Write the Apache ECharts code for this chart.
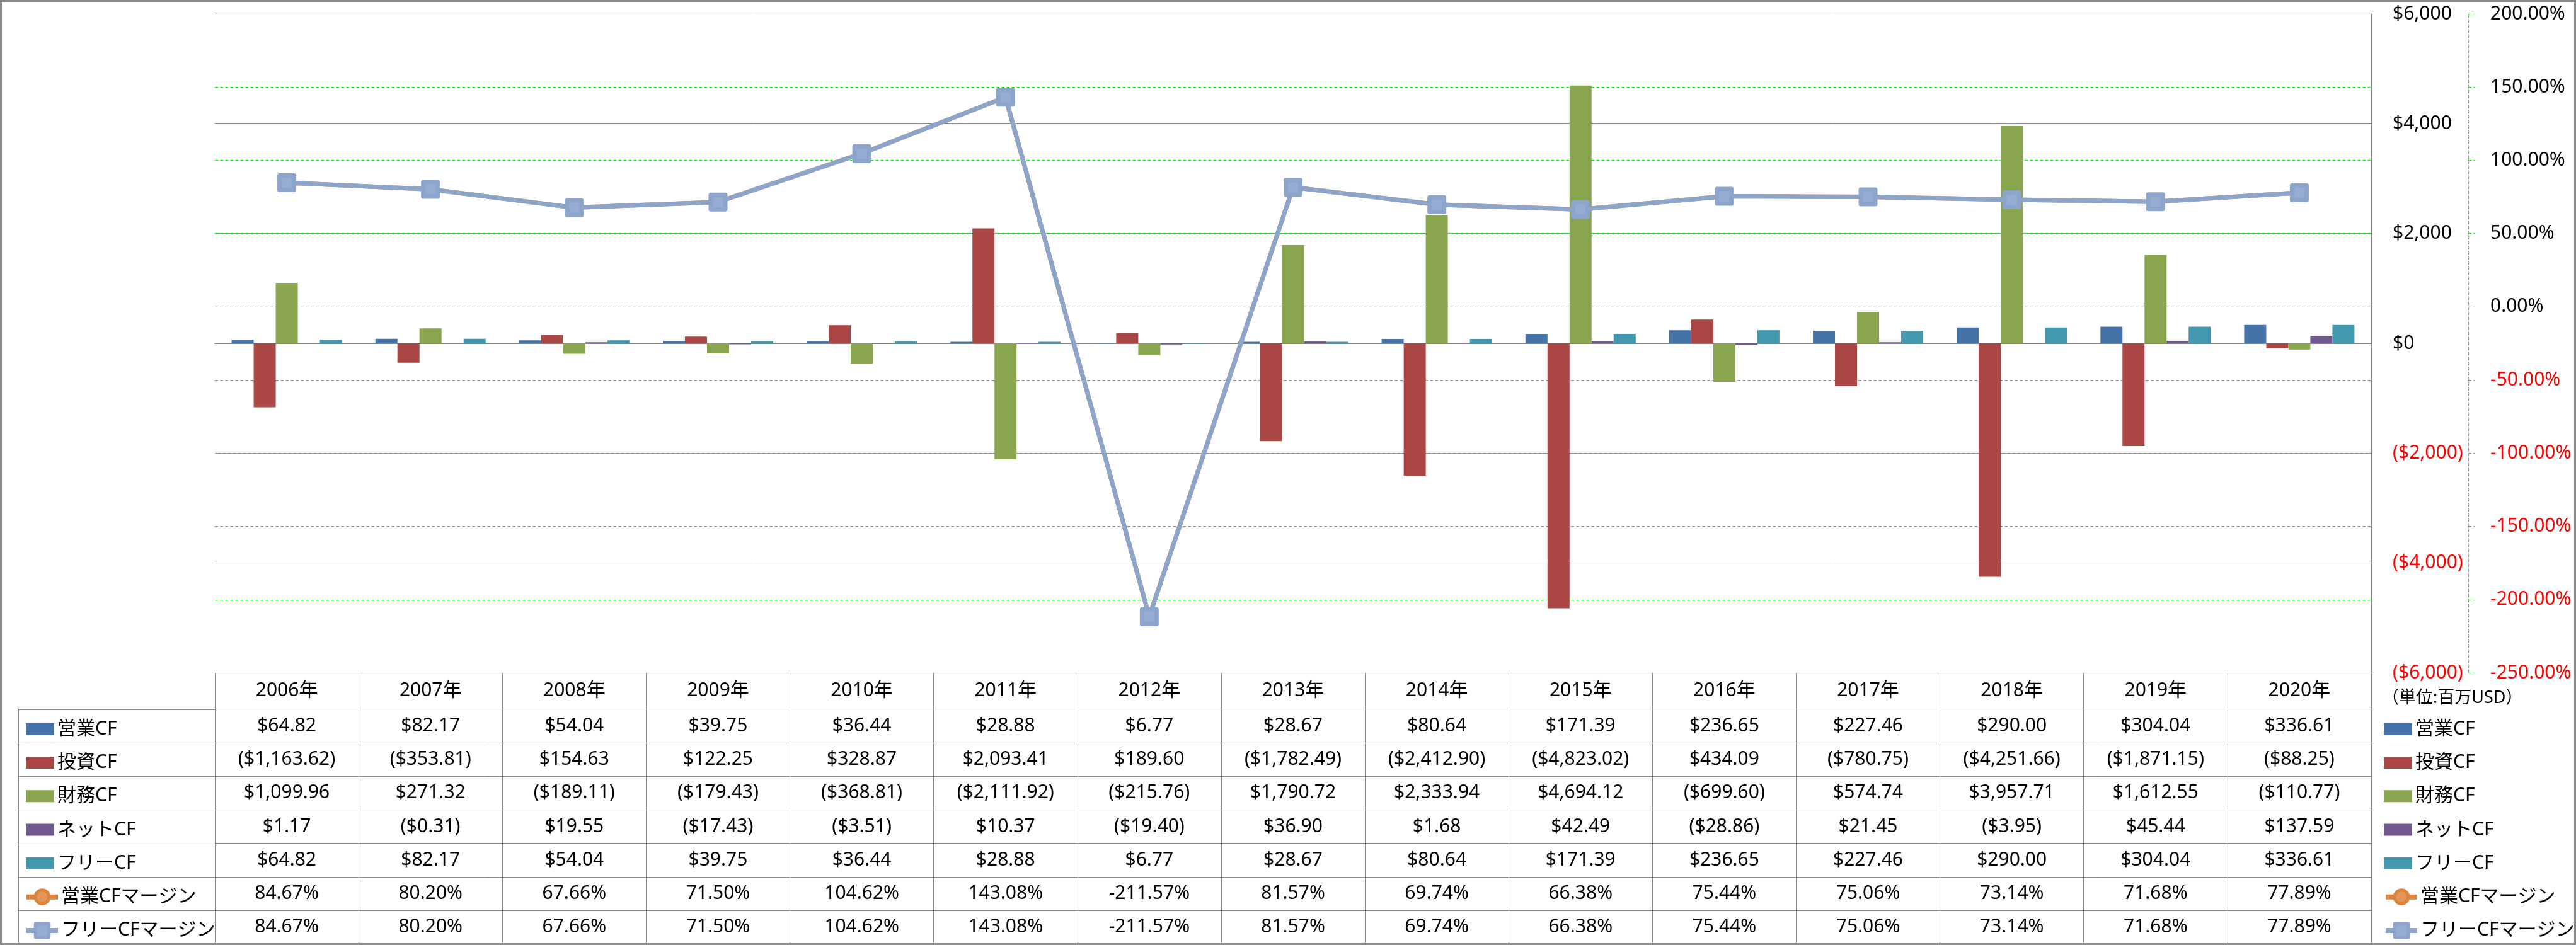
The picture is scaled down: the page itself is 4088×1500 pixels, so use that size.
<!DOCTYPE html>
<html>
<head>
<meta charset="utf-8">
<script src="https://cdn.jsdelivr.net/npm/echarts@6/dist/echarts.min.js"></script>
<style>
html,body{margin:0;padding:0;background:#fff;}
#c{width:4088px;height:1500px;}
</style>
</head>
<body>
<div id="c"></div>
<script>
// ---------- data ----------
const years = ['2006年','2007年','2008年','2009年','2010年','2011年','2012年','2013年','2014年','2015年','2016年','2017年','2018年','2019年','2020年'];
const opCF   = [64.82, 82.17, 54.04, 39.75, 36.44, 28.88, 6.77, 28.67, 80.64, 171.39, 236.65, 227.46, 290.00, 304.04, 336.61];
const invCF  = [-1163.62, -353.81, 154.63, 122.25, 328.87, 2093.41, 189.60, -1782.49, -2412.90, -4823.02, 434.09, -780.75, -4251.66, -1871.15, -88.25];
const finCF  = [1099.96, 271.32, -189.11, -179.43, -368.81, -2111.92, -215.76, 1790.72, 2333.94, 4694.12, -699.60, 574.74, 3957.71, 1612.55, -110.77];
const netCF  = [1.17, -0.31, 19.55, -17.43, -3.51, 10.37, -19.40, 36.90, 1.68, 42.49, -28.86, 21.45, -3.95, 45.44, 137.59];
const freeCF = [64.82, 82.17, 54.04, 39.75, 36.44, 28.88, 6.77, 28.67, 80.64, 171.39, 236.65, 227.46, 290.00, 304.04, 336.61];
const opMargin   = [84.67, 80.20, 67.66, 71.50, 104.62, 143.08, -211.57, 81.57, 69.74, 66.38, 75.44, 75.06, 73.14, 71.68, 77.89];
const freeMargin = [84.67, 80.20, 67.66, 71.50, 104.62, 143.08, -211.57, 81.57, 69.74, 66.38, 75.44, 75.06, 73.14, 71.68, 77.89];
const barNames  = ['営業CF','投資CF','財務CF','ネットCF','フリーCF'];
const lineNames = ['営業CFマージン','フリーCFマージン'];
const cfAxis  = {min: -6000, max: 6000, interval: 2000};
const pctAxis = {min: -250, max: 200, interval: 50};
const unitLabel = '（単位:百万USD）';

// ---------- styles ----------
const FONT = "'Noto Sans','Noto Sans CJK JP',sans-serif";
const GRAY = '#868686';
const GREEN = '#00FF00';
const COLORS = ['#4572A7','#AA4643','#89A54E','#71588F','#4198AF'];
const ORANGE = '#DB843D';
const BLUE_LINE = '#8EA5CB';

const GRID_L = 341, GRID_T = 22, GRID_W = 3422, GRID_H = 1046;
const TABLE_TOP = GRID_T + GRID_H;
const HEADER_H = 57.5, ROW_H = 53.3;
const rowTop = k => TABLE_TOP + HEADER_H + k * ROW_H;

function money(v) {
  const s = Math.abs(v).toLocaleString('en-US', {minimumFractionDigits: 2, maximumFractionDigits: 2});
  return v < 0 ? '($' + s + ')' : '$' + s;
}
function pct(v) { return v.toFixed(2) + '%'; }

const tableRows = [
  {vals: opCF, fmt: money},
  {vals: invCF, fmt: money},
  {vals: finCF, fmt: money},
  {vals: netCF, fmt: money},
  {vals: freeCF, fmt: money},
  {vals: opMargin, fmt: pct},
  {vals: freeMargin, fmt: pct}
];

const cellText = {fontSize: 30, color: '#000', fontFamily: FONT};

const xAxes = [
  {
    type: 'category', data: years, gridIndex: 0,
    axisLine: {onZero: true, onZeroAxisIndex: 0, lineStyle: {color: GRAY, width: 2}},
    axisTick: {show: false}, axisLabel: {show: false}, splitLine: {show: false}
  },
  {
    type: 'category', data: years, gridIndex: 0, position: 'bottom', offset: 0,
    axisLine: {onZero: false, lineStyle: {color: GRAY, width: 1}},
    axisTick: {show: true, interval: 0, length: HEADER_H, lineStyle: {color: GRAY, width: 1}},
    axisLabel: Object.assign({interval: 0, margin: HEADER_H / 2, verticalAlign: 'middle'}, cellText),
    splitLine: {show: false}
  }
];
tableRows.forEach((r, k) => {
  xAxes.push({
    type: 'category', data: years, gridIndex: 0, position: 'bottom', offset: HEADER_H + k * ROW_H,
    axisLine: {onZero: false, lineStyle: {color: GRAY, width: 1}},
    axisTick: {show: true, interval: 0, length: ROW_H, lineStyle: {color: GRAY, width: 1}},
    axisLabel: Object.assign({interval: 0, margin: ROW_H / 2, verticalAlign: 'middle',
      formatter: (v, i) => r.fmt(r.vals[i])}, cellText),
    splitLine: {show: false}
  });
});

function barLegend(left) {
  return {
    orient: 'vertical', left: left, top: rowTop(0) + ROW_H / 2 - 15,
    itemWidth: 45, itemHeight: 19, itemGap: ROW_H - 30, icon: 'rect',
    data: barNames, selectedMode: false,
    textStyle: {fontSize: 30, lineHeight: 30, color: '#000', fontFamily: FONT}
  };
}
function lineLegend(left) {
  return {
    orient: 'vertical', left: left, top: rowTop(5) + ROW_H / 2 - 15,
    itemWidth: 50, itemHeight: 27, itemGap: ROW_H - 30,
    data: lineNames, selectedMode: false,
    lineStyle: {width: 8}, itemStyle: {borderWidth: 5},
    textStyle: {fontSize: 30, lineHeight: 30, color: '#000', fontFamily: FONT}
  };
}

const graphics = [
  {type: 'rect', z: 100, silent: true, shape: {x: 1.5, y: 1.5, width: 4085, height: 1497},
   style: {fill: 'none', stroke: GRAY, lineWidth: 3}},
  {type: 'line', z: 50, silent: true, shape: {x1: 29.5, y1: rowTop(0), x2: 29.5, y2: 1499},
   style: {stroke: GRAY, lineWidth: 1}},
  {type: 'text', z: 50, silent: true, x: 3780, y: 1108,
   style: {text: unitLabel, fontSize: 27, fontFamily: FONT,
     fill: '#000', align: 'left', verticalAlign: 'middle'}}
];
for (let k = 0; k < 7; k++) {
  const y = Math.round(rowTop(k)) + 0.5;
  graphics.push({type: 'line', z: 50, silent: true, shape: {x1: 29, y1: y, x2: GRID_L, y2: y},
    style: {stroke: GRAY, lineWidth: 1}});
}

const barSeries = barNames.map((n, i) => ({
  name: n, type: 'bar', xAxisIndex: 0, yAxisIndex: 0,
  data: [opCF, invCF, finCF, netCF, freeCF][i],
  barWidth: 35, barGap: '0%',
  itemStyle: {color: COLORS[i]}
}));

const option = {
  animation: false,
  backgroundColor: '#fff',
  textStyle: {fontFamily: FONT},
  legend: [barLegend(36), lineLegend(33), barLegend(3778), lineLegend(3777)],
  grid: {left: GRID_L, top: GRID_T, width: GRID_W, height: GRID_H, containLabel: false, outerBoundsMode: 'none'},
  xAxis: xAxes,
  yAxis: [
    {
      type: 'value', position: 'right', min: cfAxis.min, max: cfAxis.max, interval: cfAxis.interval,
      axisLine: {show: true, lineStyle: {color: GRAY, width: 1}},
      axisTick: {show: false},
      splitLine: {show: true, lineStyle: {color: GRAY, width: 1}},
      axisLabel: {margin: 34, fontSize: 30, fontFamily: FONT,
        color: v => (Number(v) < 0 ? '#FF0000' : '#000'),
        formatter: v => {
          const s = Math.abs(v).toLocaleString('en-US');
          return v < 0 ? '($' + s + ')' : '$' + s;
        }}
    },
    {
      type: 'value', position: 'right', offset: 154, min: pctAxis.min, max: pctAxis.max, interval: pctAxis.interval,
      axisLine: {show: true, lineStyle: {color: GREEN, width: 1, type: [5, 3]}},
      axisTick: {show: true, length: 11, lineStyle: {color: GREEN, width: 1, type: [5, 3]}},
      splitLine: {show: true, showMinLine: false, showMaxLine: false, lineStyle: {color: GREEN, width: 1, type: [5, 3]}},
      axisLabel: {margin: 35, fontSize: 30, fontFamily: FONT,
        color: v => (Number(v) < 0 ? '#FF0000' : '#000'),
        formatter: v => Number(v).toFixed(2) + '%'}
    }
  ],
  series: barSeries.concat([
    {
      name: lineNames[0], type: 'line', xAxisIndex: 0, yAxisIndex: 1, data: opMargin,
      symbol: 'circle', symbolSize: 20, showAllSymbol: true,
      lineStyle: {color: ORANGE, width: 7},
      itemStyle: {color: '#E3955A', borderColor: ORANGE, borderWidth: 7}
    },
    {
      name: lineNames[1], type: 'line', xAxisIndex: 0, yAxisIndex: 1, data: freeMargin,
      symbol: 'rect', symbolSize: 23, showAllSymbol: true,
      lineStyle: {color: BLUE_LINE, width: 7},
      itemStyle: {color: '#97ACD2', borderColor: BLUE_LINE, borderWidth: 7, borderJoin: 'round'}
    }
  ]),
  graphic: graphics
};

const chart = echarts.init(document.getElementById('c'), null, {renderer: 'canvas'});
chart.setOption(option);
</script>
</body>
</html>
